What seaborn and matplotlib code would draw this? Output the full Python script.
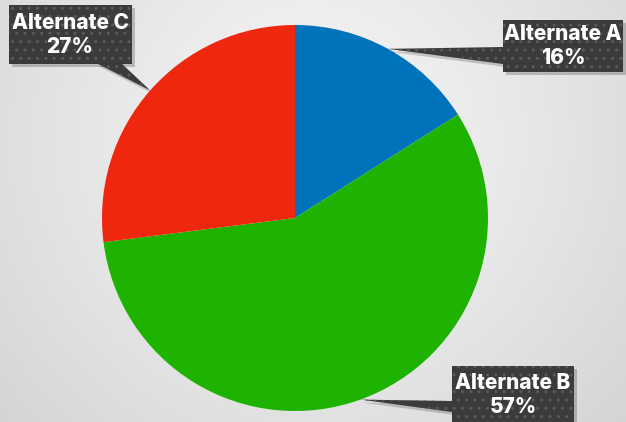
import numpy as np
import matplotlib
matplotlib.use("Agg")
import matplotlib.pyplot as plt
import seaborn as sns
from matplotlib.patches import Rectangle, Polygon

# ---- data ----
categories = ["Alternate A", "Alternate B", "Alternate C"]
values = [16, 57, 27]
colors = ["#0173BB", "#1DB300", "#F0270F"]

sns.set_theme(style="white")
plt.rcParams["font.family"] = ["Inter", "DejaVu Sans"]

W, H, DPI = 626, 422, 100
fig = plt.figure(figsize=(W / DPI, H / DPI), dpi=DPI)

# background radial gradient
bg = fig.add_axes([0, 0, 1, 1], zorder=0)
yy, xx = np.mgrid[0:H, 0:W]
d = np.sqrt(((xx - 313) / 1.0) ** 2 + ((yy - 140) / 1.0) ** 2) / 430.0
d = np.clip(d, 0, 1)
g = 0.965 - (0.965 - 0.83) * d ** 1.2
bg.imshow(np.dstack([g, g, g]), extent=[0, W, H, 0], aspect="auto")
bg.set_axis_off()

# pie axes: center (295, 218) px, radius 193 px
cx, cy, R = 295, 218, 193
pax = fig.add_axes([(cx - R) / W, (H - cy - R) / H, 2 * R / W, 2 * R / H], zorder=1)
wedges, _ = pax.pie(values, colors=colors, startangle=90, counterclock=False,
                    wedgeprops=dict(linewidth=0))
pax.set_xlim(-1, 1)
pax.set_ylim(-1, 1)
pax.set_aspect("auto")
pax.set_axis_off()

# overlay in pixel coordinates
ov = fig.add_axes([0, 0, 1, 1], zorder=2)
ov.set_xlim(0, W)
ov.set_ylim(H, 0)
ov.set_axis_off()
ov.patch.set_alpha(0)

# label box layout (x0, y0, x1, y1), callout base points, text center
boxes = {
    "Alternate A": ((503, 20, 623, 72), [(503, 47), (503, 64)], (563, 46)),
    "Alternate B": ((452, 366, 574, 425), [(452, 401), (452, 412)], (513, 395)),
    "Alternate C": ((9, 5, 132, 64), [(96, 63), (121, 63)], (70, 35)),
}
total = sum(values)
dark = "#3b3b3b"
for w, cat, v in zip(wedges, categories, values):
    mid = np.deg2rad((w.theta1 + w.theta2) / 2)
    tip = (cx + R * np.cos(mid), cy - R * np.sin(mid))
    (x0, y0, x1, y1), base, tc = boxes[cat]
    # shadows
    ov.add_patch(Polygon([(tip[0] + 2, tip[1] + 3), (base[0][0] + 2, base[0][1] + 3),
                          (base[1][0] + 2, base[1][1] + 3)], closed=True,
                         facecolor="black", alpha=0.18, linewidth=0))
    ov.add_patch(Rectangle((x0 + 3, y0 + 3), x1 - x0, y1 - y0, facecolor="black",
                           alpha=0.2, linewidth=0))
    ov.add_patch(Polygon([tip, base[0], base[1]], closed=True, facecolor=dark,
                         edgecolor="#5a5a5a", hatch="..", linewidth=0))
    ov.add_patch(Rectangle((x0, y0), x1 - x0, y1 - y0, facecolor=dark,
                           edgecolor="#5a5a5a", hatch="..", linewidth=0))
    ov.text(tc[0], tc[1], f"{cat}\n{v / total * 100:.0f}%", ha="center", va="center",
            color="white", fontsize=15, fontweight=800, linespacing=1.3)

fig.savefig("out.png", dpi=DPI)
